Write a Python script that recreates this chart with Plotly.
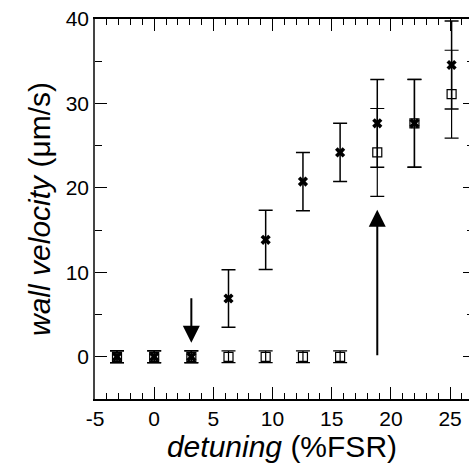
import plotly.graph_objects as go

detuning = [-3.14, 0.0, 3.14, 6.28, 9.42, 12.57, 15.71, 18.85, 21.99, 25.13]
vel_cross = [0.0, 0.0, 0.0, 6.9, 13.85, 20.75, 24.2, 27.65, 27.65, 34.55]
err_cross = [0.7, 0.7, 0.7, 3.4, 3.5, 3.45, 3.45, 5.2, 5.2, 5.2]
vel_square = [0.0, 0.0, 0.0, 0.0, 0.0, 0.0, 0.0, 24.2, 27.65, 31.1]
err_square = [0.7, 0.7, 0.7, 0.7, 0.7, 0.7, 0.7, 5.2, 5.2, 5.2]

arrow_x = [3.14, 18.85]
arrow_tip_y = [1.65, 17.4]
arrow_tail_y = [7.1, 0.0]

x_ticks = [-5, 0, 5, 10, 15, 20, 25]
y_ticks = [0, 10, 20, 30, 40]

FONT = "Liberation Sans, Arial, Helvetica, sans-serif"

fig = go.Figure()

fig.add_trace(go.Scatter(
    x=detuning, y=vel_square, mode="markers",
    marker=dict(symbol="square-open", size=9, color="black", line=dict(width=1.2, color="black")),
    error_y=dict(type="data", array=err_square, visible=True, color="black", thickness=1.2, width=7),
    showlegend=False, cliponaxis=False,
))
fig.add_trace(go.Scatter(
    x=detuning, y=vel_cross, mode="markers",
    marker=dict(symbol="x", size=9, color="black", line=dict(width=0)),
    error_y=dict(type="data", array=err_cross, visible=True, color="black", thickness=1.5, width=7),
    showlegend=False, cliponaxis=False,
))
# invisible trace on right y-axis so its ticks are drawn
fig.add_trace(go.Scatter(x=[detuning[0]], y=[vel_cross[0]], yaxis="y2", mode="markers",
                         marker=dict(opacity=0), showlegend=False, hoverinfo="skip"))

for ax_x, tip, tail in zip(arrow_x, arrow_tip_y, arrow_tail_y):
    fig.add_annotation(x=ax_x, y=tip, ax=ax_x, ay=tail, xref="x", yref="y", axref="x", ayref="y",
                       text="", showarrow=True, arrowhead=2, arrowsize=1.7, arrowwidth=2,
                       arrowcolor="black", standoff=0)

fig.update_layout(
    width=469, height=465,
    margin=dict(l=95, r=0, t=19, b=66),
    paper_bgcolor="white", plot_bgcolor="white",
    font=dict(family=FONT, color="black", size=21),
    xaxis=dict(
        range=[-5, 26.6], tickvals=x_ticks, ticktext=[str(v) for v in x_ticks],
        ticks="inside", ticklen=12, tickwidth=1, tickcolor="black",
        minor=dict(dtick=1, tick0=0, ticks="inside", ticklen=6, tickwidth=1, tickcolor="black"),
        showline=True, linecolor="black", linewidth=1.5, mirror="ticks",
        showgrid=False, zeroline=False, automargin=False,
        tickfont=dict(size=21),
        title=dict(text="<i>detuning</i> (%FSR)", font=dict(size=30), standoff=0),
    ),
    yaxis=dict(
        range=[-5, 40], tickvals=y_ticks, ticktext=[str(v) for v in y_ticks],
        ticks="inside", ticklen=12, tickwidth=1, tickcolor="black",
        minor=dict(dtick=5, tick0=0, ticks="inside", ticklen=7, tickwidth=1, tickcolor="black"),
        showline=True, linecolor="#444", linewidth=1.5, mirror=False,
        showgrid=False, zeroline=False, automargin=False,
        tickfont=dict(size=21),
        title=dict(text="<i>wall velocity</i> (μm/s)", font=dict(size=30), standoff=6),
    ),
    yaxis2=dict(
        overlaying="y", side="right", matches="y", range=[-5, 40],
        tickvals=y_ticks, showticklabels=False,
        ticks="inside", ticklen=6, tickwidth=1, tickcolor="black",
        minor=dict(dtick=5, tick0=0, ticks="inside", ticklen=2, tickwidth=1, tickcolor="black"),
        showline=False, showgrid=False, zeroline=False, automargin=False,
    ),
)

fig.write_html("out.html",
               config={"displayModeBar": False},
               post_script="document.body.style.margin='0';document.body.style.padding='0';document.body.style.overflow='hidden';")
